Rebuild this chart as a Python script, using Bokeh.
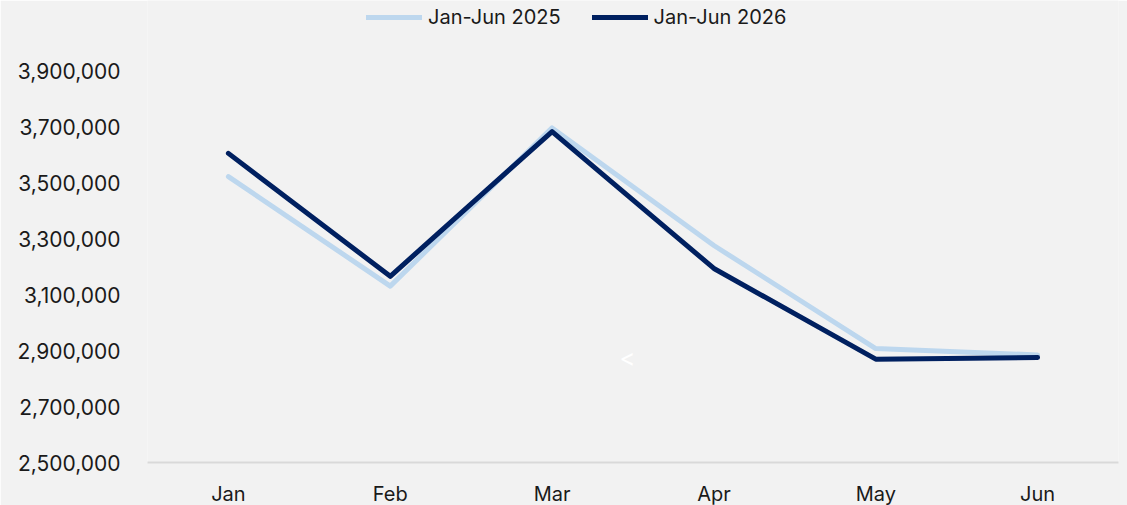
from bokeh.plotting import figure
from bokeh.models import Legend, LegendItem, NumeralTickFormatter, FixedTicker, Range1d, FactorRange, Label
from bokeh.embed import file_html
from bokeh.resources import INLINE

months = ["Jan", "Feb", "Mar", "Apr", "May", "Jun"]
sales_2025 = [3521000, 3130000, 3695000, 3275000, 2907000, 2884000]
sales_2026 = [3604000, 3165000, 3682000, 3193000, 2869000, 2875000]
y_ticks = [2500000, 2700000, 2900000, 3100000, 3300000, 3500000, 3700000, 3900000]
series_names = ["Jan-Jun 2025", "Jan-Jun 2026"]

FONT = "Inter"
BG = "#f2f2f2"

# the frame reaches the top of the canvas so the legend can sit inside it;
# extra headroom above the 3,900,000 tick holds the legend
p = figure(frame_width=971, frame_height=462, output_backend="svg", toolbar_location=None,
           x_range=FactorRange(*months, range_padding=0),
           y_range=Range1d(2500000, 4150000),
           min_border_left=147, min_border_right=9, min_border_top=0, min_border_bottom=43)
p.background_fill_color = BG
p.border_fill_color = BG
p.outline_line_color = None
p.grid.visible = False

r1 = p.line(months, sales_2025, line_color="#BDD7EE", line_width=5, line_join="round", line_cap="round")
r2 = p.line(months, sales_2026, line_color="#002060", line_width=5, line_join="round", line_cap="round")

p.yaxis.ticker = FixedTicker(ticks=y_ticks)
p.yaxis.formatter = NumeralTickFormatter(format="0,0")
p.yaxis.axis_line_color = None
p.yaxis.major_label_standoff = 27
p.yaxis.major_label_text_font_size = "21px"
p.xaxis.axis_line_color = "#d9d9d9"
p.xaxis.axis_line_width = 2
p.xaxis.major_label_standoff = 19
p.xaxis.major_label_text_font_size = "20px"
for ax in (p.xaxis, p.yaxis):
    ax.major_tick_line_color = None
    ax.minor_tick_line_color = None
    ax.major_tick_out = 0
    ax.major_tick_in = 0
    ax.minor_tick_out = 0
    ax.major_label_text_font = FONT
    ax.major_label_text_color = "#1a1a1a"

legend = Legend(items=[LegendItem(label=series_names[0], renderers=[r1]),
                       LegendItem(label=series_names[1], renderers=[r2])],
                orientation="horizontal", location=(219, 433),
                glyph_width=56, glyph_height=20, label_height=20, label_standoff=6,
                spacing=31, padding=0, margin=0,
                label_text_font=FONT, label_text_font_size="20px", label_text_color="#1a1a1a",
                background_fill_alpha=0, border_line_color=None)
p.add_layout(legend, "center")

p.add_layout(Label(x=480, y=105, x_units="screen", y_units="screen", text="<",
                   text_color="white", text_font=FONT, text_font_size="24px",
                   text_align="center", text_baseline="middle"))

open("out.html", "w").write(file_html(p, INLINE))
